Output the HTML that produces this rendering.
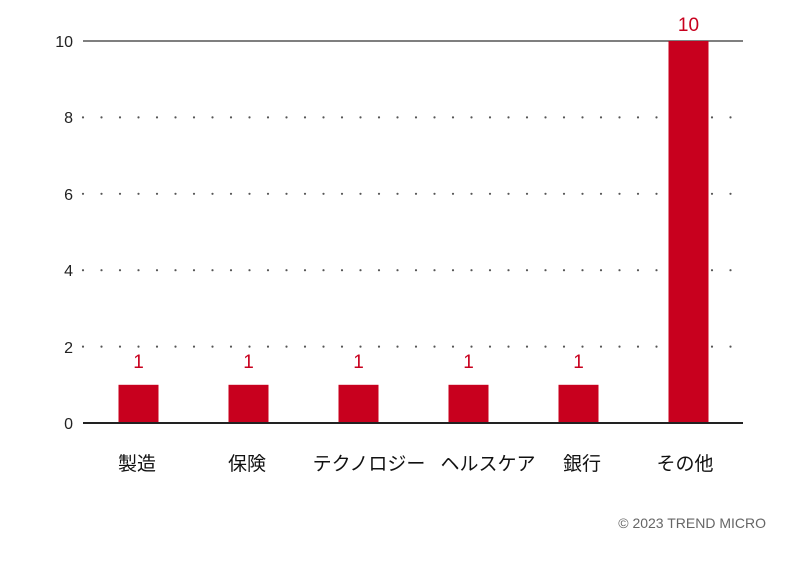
<!DOCTYPE html>
<html><head><meta charset="utf-8"><style>body{margin:0;background:#fff}</style></head><body>
<svg width="800" height="564" xmlns="http://www.w3.org/2000/svg" font-family="Liberation Sans, Noto Sans CJK JP, sans-serif">
<g stroke="#555" stroke-width="2.2" stroke-dasharray="0 18.5" stroke-linecap="round">
<line x1="83" y1="117.4" x2="745" y2="117.4"/>
<line x1="83" y1="193.8" x2="745" y2="193.8"/>
<line x1="83" y1="270.2" x2="745" y2="270.2"/>
<line x1="83" y1="346.6" x2="745" y2="346.6"/>
</g>
<line x1="83" y1="41" x2="743" y2="41" stroke="#555" stroke-width="1.5"/>
<g fill="#c8001e">
<rect x="118.5" y="384.8" width="40" height="38.2"/>
<rect x="228.5" y="384.8" width="40" height="38.2"/>
<rect x="338.5" y="384.8" width="40" height="38.2"/>
<rect x="448.5" y="384.8" width="40" height="38.2"/>
<rect x="558.5" y="384.8" width="40" height="38.2"/>
<rect x="668.5" y="41" width="40" height="382"/>
</g>
<line x1="83" y1="423" x2="743" y2="423" stroke="#222" stroke-width="2"/>
<g font-size="16" fill="#222" text-anchor="end">
<text x="73" y="47">10</text><text x="73" y="123">8</text><text x="73" y="200">6</text><text x="73" y="276">4</text><text x="73" y="353">2</text><text x="73" y="429">0</text>
</g>
<g font-size="19" fill="#c8001e" text-anchor="middle">
<text x="138.5" y="368">1</text><text x="248.5" y="368">1</text><text x="358.5" y="368">1</text><text x="468.5" y="368">1</text><text x="578.5" y="368">1</text><text x="688.5" y="31">10</text>
</g>
<g font-size="19" fill="#111" text-anchor="middle">
<text x="137" y="470">製造</text><text x="247" y="470">保険</text><text x="369" y="470">テクノロジー</text><text x="488" y="470">ヘルスケア</text><text x="582" y="470">銀行</text><text x="685" y="470">その他</text>
</g>
<text x="766" y="528" font-size="14" fill="#666" text-anchor="end">© 2023 TREND MICRO</text>
</svg>
</body></html>
